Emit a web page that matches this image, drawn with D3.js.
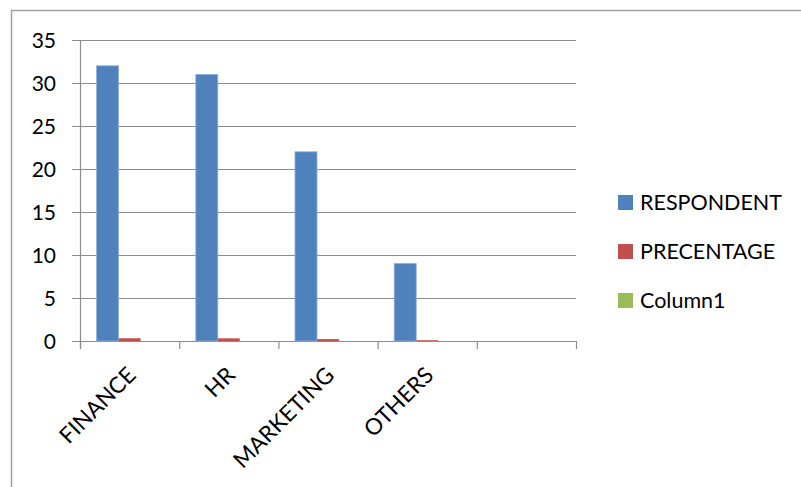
<!DOCTYPE html>
<html><head><meta charset="utf-8">
<script src="https://cdn.jsdelivr.net/npm/d3@7"></script>
<style>body{margin:0;background:#fff}svg{display:block}text{font-family:Lato,"Open Sans",sans-serif;fill:#000}</style>
</head><body>
<svg id="c" width="801" height="487"></svg>
<script>
const categories = ["FINANCE","HR","MARKETING","OTHERS",""];
const seriesNames = ["RESPONDENT","PRECENTAGE","Column1"];
const respondent = [32,31,22,9,null];
const precentage = [0.32,0.31,0.22,0.09,null];
const column1 = [0,0,0,0,null];
const yTicks = [0,5,10,15,20,25,30,35];
const colors = ["#4F81BD","#C0504D","#9BBB59"];
const strokes = ["#8FB0DA",null,null];

const svg = d3.select("#c");
svg.append("path").attr("d","M11.5,487 V10.5 H801").attr("fill","none").attr("stroke","#a0a0a0").attr("stroke-width",1.5);

const m = {l:80, r:576, t:40, b:341};
const x = d3.scaleBand().domain(d3.range(categories.length)).range([m.l,m.r]);
const y = d3.scaleLinear().domain([0,35]).range([m.b,m.t]);
const inner = d3.scaleBand().domain(d3.range(3)).range([0,66]);

svg.append("g").selectAll("line").data(yTicks).join("line")
  .attr("x1",m.l-8).attr("x2",m.r).attr("y1",d=>Math.round(y(d))+0.5).attr("y2",d=>Math.round(y(d))+0.5)
  .attr("stroke","#8c8c8c").attr("stroke-width",1.2);
svg.append("line").attr("x1",m.l+0.5).attr("x2",m.l+0.5).attr("y1",m.t).attr("y2",m.b+8).attr("stroke","#8c8c8c").attr("stroke-width",1.2);
svg.append("g").selectAll("line").data(d3.range(categories.length+1)).join("line")
  .attr("x1",i=>m.l+i*x.step()+0.5).attr("x2",i=>m.l+i*x.step()+0.5).attr("y1",m.b).attr("y2",m.b+8)
  .attr("stroke","#8c8c8c").attr("stroke-width",1.2);
svg.append("g").selectAll("text").data(yTicks).join("text")
  .attr("x",56).attr("y",d=>y(d)).attr("dy","0.36em").attr("text-anchor","end").attr("font-size",21).text(d=>d);

const series = [respondent,precentage,column1];
series.forEach((vals,s)=>{
  svg.append("g").selectAll("rect").data(vals.map((v,i)=>({v,i})).filter(d=>d.v!=null && d.v>0)).join("rect")
    .attr("x",d=>x(d.i)+x.bandwidth()/2-33+inner(s))
    .attr("width",inner.bandwidth())
    .attr("y",d=>y(d.v)).attr("height",d=>y(0)-y(d.v))
    .attr("fill",colors[s]).attr("stroke",strokes[s]||"none").attr("stroke-width",0.8);
});

svg.append("g").selectAll("text").data(categories).join("text")
  .attr("transform",(d,i)=>`translate(${x(i)+x.bandwidth()/2+2},${m.b+30}) rotate(-45)`)
  .attr("text-anchor","end").attr("dy","0.35em").attr("font-size",22.5).text(d=>d);

const lg = svg.append("g");
seriesNames.forEach((n,i)=>{
  const yy = 202 + i*49;
  lg.append("rect").attr("x",618).attr("y",yy-7).attr("width",15).attr("height",15).attr("fill",colors[i]);
  lg.append("text").attr("x",640).attr("y",yy).attr("dy","0.36em").attr("font-size",21.5).text(n);
});
</script>
</body></html>
